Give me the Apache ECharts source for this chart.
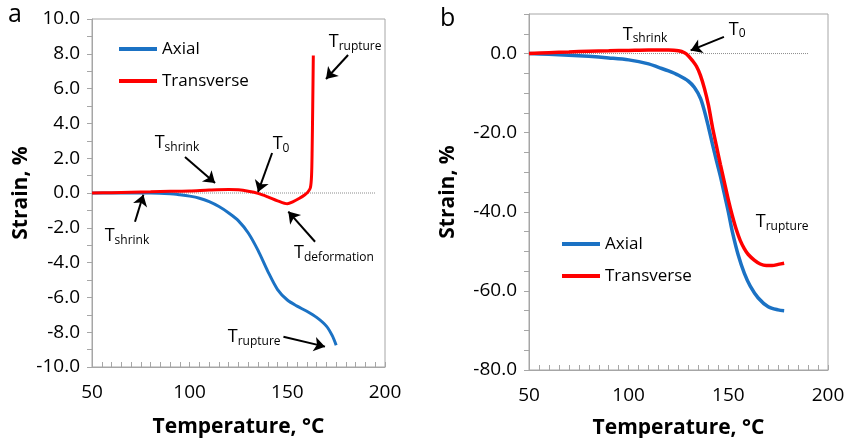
<!DOCTYPE html>
<html>
<head>
<meta charset="utf-8">
<script src="https://cdn.jsdelivr.net/npm/echarts@6/dist/echarts.min.js"></script>
<style>
html, body { margin: 0; padding: 0; background: #fff; }
#chart { width: 848px; height: 438px; }
</style>
</head>
<body>
<div id="chart"></div>
<script>
// panel a: strain (%) vs temperature (°C)
const axialA = [[50,0],[60,0],[70,0],[80,0],[90,-0.04],[95,-0.1],[100,-0.18],[105,-0.3],[110,-0.5],[115,-0.78],[120,-1.15],[125,-1.6],[130,-2.3],[135,-3.3],[140,-4.5],[145,-5.55],[150,-6.15],[155,-6.5],[160,-6.8],[165,-7.15],[170,-7.65],[173,-8.2],[175,-8.75]]
const transA = [[50,0],[60,0.02],[70,0.05],[80,0.07],[90,0.1],[100,0.12],[110,0.17],[120,0.2],[125,0.18],[130,0.1],[135,-0.02],[140,-0.22],[145,-0.45],[150,-0.62],[153,-0.5],[156,-0.32],[159,-0.1],[160.5,0.05],[161.8,0.3],[162.4,1],[162.7,2.5],[163,5],[163.3,7.9]]
const zeroA = [[50,0],[195,0]]

// panel b
const axialB = [[50,0],[60,-0.2],[70,-0.4],[80,-0.7],[90,-1.1],[100,-1.6],[110,-2.6],[115,-3.5],[120,-4.4],[125,-5.5],[130,-7.0],[133,-8.6],[136,-11.3],[138,-14.5],[140,-18.5],[142,-22.8],[144,-27],[146,-31],[148,-35.5],[150,-40],[152,-45],[155,-51],[158,-55.5],[161,-58.8],[165,-61.8],[170,-64],[175,-64.8],[178,-65]]
const transB = [[50,0],[60,0.2],[70,0.4],[80,0.6],[90,0.7],[100,0.8],[110,0.9],[120,0.9],[125,0.7],[128,0.2],[130,-0.6],[132,-1.8],[134,-3.2],[136,-5.5],[138,-8.8],[140,-13],[142,-18.5],[144,-23.3],[146,-28],[148,-32.5],[150,-37],[152,-41],[154,-44.5],[156,-47.3],[158,-49.3],[160,-50.8],[163,-52.2],[166,-53.2],[169,-53.6],[172,-53.6],[175,-53.3],[178,-53]]
const zeroB = [[50,0],[190,0]]

// annotations (data coords)
const labelsA = [
  [184.7, 8.7, 'rupture'], [93.5, 2.87, 'shrink'], [146.8, 2.8, '0'],
  [173.9, -3.45, 'deformation'], [67.9, -2.47, 'shrink'], [133, -8.28, 'rupture']
]
const arrowsA = [
  [[181.1, 7.93], [169.8, 6.55]], [[97.6, 2.07], [113, 0.57]], [[142.2, 2.3], [135, 0.06]],
  [[164.2, -2.8], [150.5, -1.07]], [[72, -1.65], [76.3, -0.1]], [[148, -8.26], [169.3, -8.83]]
]
const labelsB = [[108.2, 4.8, 'shrink'], [154.4, 6.1, '0'], [177, -42.5, 'rupture']]
const arrowsB = [[[147.8, 4.2], [131.1, 0.8]]]

const FONT = 'Open Sans'
const BLUE = '#1b72c4'
const RED = '#ff0000'
const GREY = '#a6a6a6'

const chart = echarts.init(document.getElementById('chart'))

function xAxis(idx, gap) {
  return {
    gridIndex: idx, type: 'value', min: 50, max: 200, interval: 5,
    name: 'Temperature, °C', nameLocation: 'middle', nameGap: gap,
    nameTextStyle: { fontFamily: FONT, fontWeight: 'bold', fontSize: 21, color: '#000' },
    axisLine: { onZero: false, lineStyle: { color: GREY } },
    axisTick: { inside: true, length: 5, lineStyle: { color: GREY } },
    axisLabel: { formatter: v => (v % 50 === 0 ? String(v) : ''), margin: 16, fontFamily: FONT, fontSize: 19, color: '#000' },
    splitLine: { show: false }
  }
}

function yAxis(idx, min, max, step, every, gap) {
  return {
    gridIndex: idx, type: 'value', min, max, interval: step,
    name: 'Strain, %', nameLocation: 'middle', nameGap: gap,
    nameTextStyle: { fontFamily: FONT, fontWeight: 'bold', fontSize: 21, color: '#000' },
    axisLine: { onZero: false, lineStyle: { color: GREY } },
    axisTick: { inside: false, length: 5, lineStyle: { color: GREY } },
    axisLabel: { formatter: v => (Math.round(v) % every === 0 ? v.toFixed(1) : ''), margin: 12, fontFamily: FONT, fontSize: 19, color: '#000' },
    splitLine: { show: false }
  }
}

const rich = {
  t: { fontFamily: FONT, fontSize: 18, color: '#000' },
  s: { fontFamily: FONT, fontSize: 12, color: '#000', padding: [9, 0, 0, 0] }
}

function zeroSeries(idx, data, labels, arrows) {
  return {
    type: 'line', xAxisIndex: idx, yAxisIndex: idx, data, symbol: 'none', silent: true, z: 1,
    lineStyle: { type: 'dotted', color: '#8c8c8c', width: 1 },
    markPoint: {
      symbol: 'circle', symbolSize: 1, silent: true,
      itemStyle: { color: 'rgba(0,0,0,0)' },
      label: { show: true, position: 'inside', rich },
      data: labels.map(l => ({ coord: [l[0], l[1]], label: { formatter: '{t|T}{s|' + l[2] + '}' } }))
    },
    markLine: {
      silent: true, symbol: ['none', 'arrow'], symbolSize: 11,
      lineStyle: { type: 'solid', color: '#000', width: 2 },
      label: { show: false },
      data: arrows.map(a => [{ coord: a[0] }, { coord: a[1] }])
    }
  }
}

function curve(idx, name, data, color, width) {
  return {
    name, type: 'line', xAxisIndex: idx, yAxisIndex: idx, data,
    symbol: 'none', smooth: 0.3, z: 3,
    lineStyle: { color, width }, itemStyle: { color }
  }
}

const legendBase = {
  orient: 'vertical', data: ['Axial', 'Transverse'], icon: 'rect',
  itemWidth: 38, itemHeight: 4, itemGap: 12,
  textStyle: { fontFamily: FONT, fontSize: 17, lineHeight: 20, color: '#000' }
}

chart.setOption({
  animation: false,
  backgroundColor: '#fff',
  textStyle: { fontFamily: FONT },
  grid: [
    { left: 92, right: 463, top: 19, bottom: 71, show: true, borderColor: GREY, borderWidth: 1, outerBoundsMode: 'none' },
    { left: 529, right: 20, top: 14, bottom: 68, show: true, borderColor: GREY, borderWidth: 1, outerBoundsMode: 'none' }
  ],
  legend: [
    Object.assign({ left: 114, top: 34 }, legendBase),
    Object.assign({ left: 557, top: 229 }, legendBase)
  ],
  xAxis: [xAxis(0, 50), xAxis(1, 48)],
  yAxis: [yAxis(0, -10, 10, 1, 2, 60), yAxis(1, -80, 10, 5, 20, 70)],
  graphic: [
    { type: 'text', left: 8, top: 2, style: { text: 'a', fontFamily: FONT, fontSize: 25, fill: '#000' } },
    { type: 'text', left: 440, top: 6, style: { text: 'b', fontFamily: FONT, fontSize: 25, fill: '#000' } }
  ],
  series: [
    zeroSeries(0, zeroA, labelsA, arrowsA),
    curve(0, 'Axial', axialA, BLUE, 3),
    curve(0, 'Transverse', transA, RED, 3),
    zeroSeries(1, zeroB, labelsB, arrowsB),
    curve(1, 'Axial', axialB, BLUE, 3.5),
    curve(1, 'Transverse', transB, RED, 3.5)
  ]
})
</script>
</body>
</html>
